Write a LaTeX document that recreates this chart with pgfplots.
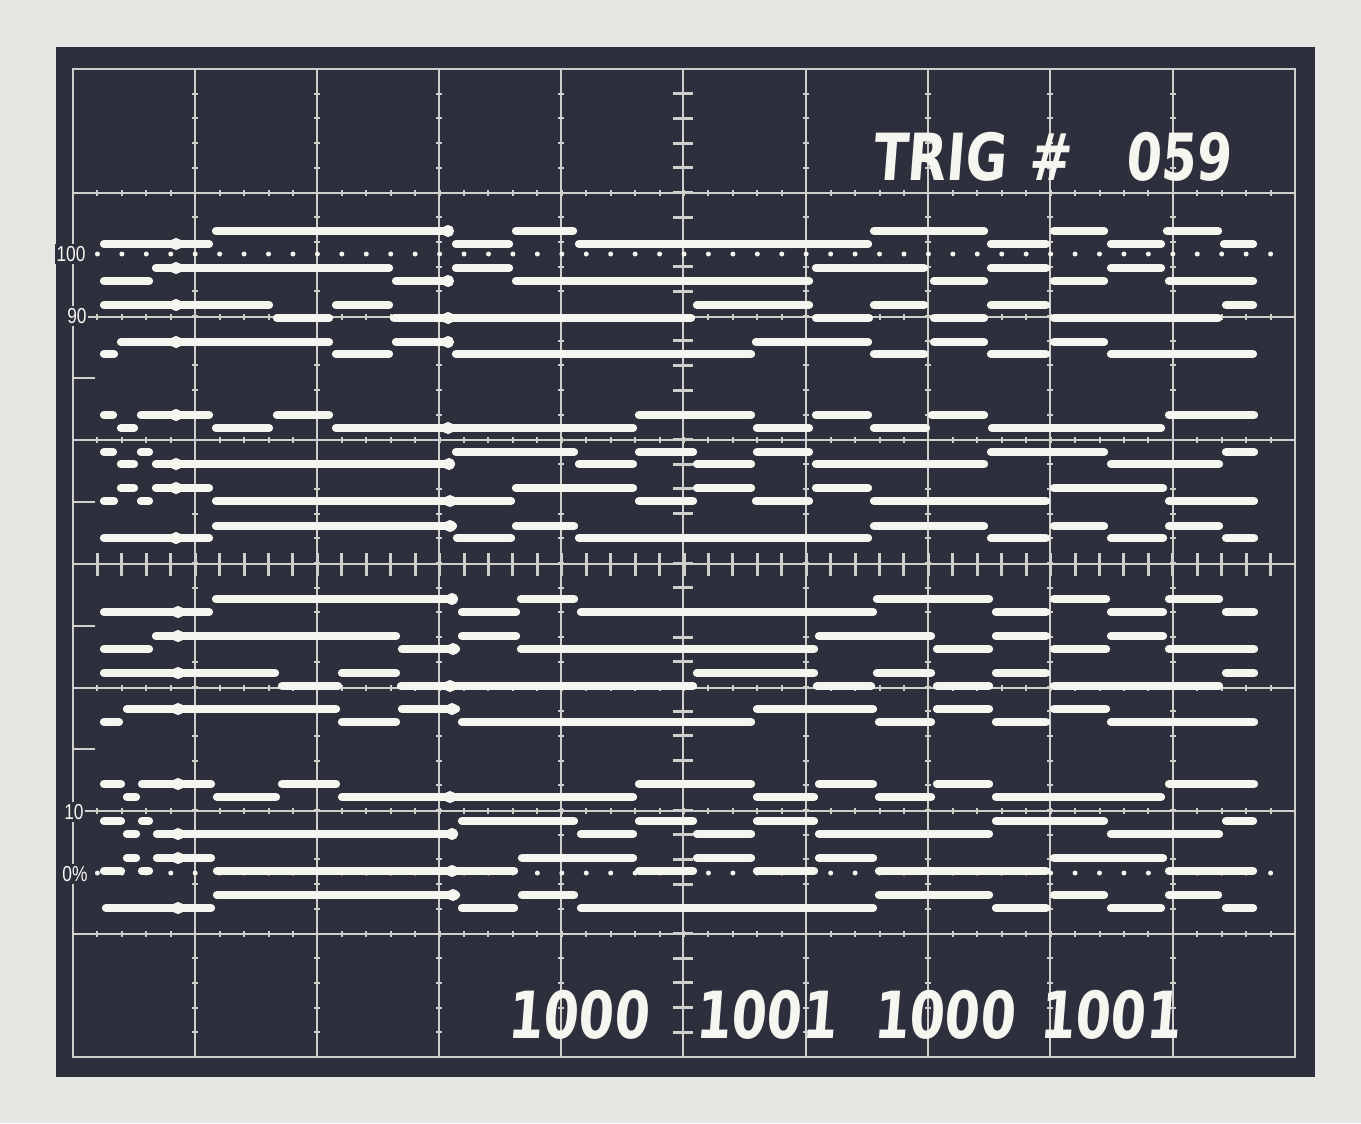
\documentclass[border=0pt]{standalone}
\usepackage{fontspec}
\setmainfont{Liberation Sans}
\newfontfamily\hand{DejaVu Sans}[FakeSlant=0.1]
\usepackage{pgfplots}
\pgfplotsset{compat=1.18}

\definecolor{paper}{HTML}{E6E6E3}
\definecolor{screen}{HTML}{2D2F3C}
\definecolor{grat}{HTML}{CFCFCC}
\definecolor{beam}{HTML}{F6F6F1}

\begin{document}
\begin{tikzpicture}
\begin{axis}[
    width=408.3pt, height=336.9pt, scale only axis,
    xmin=0, xmax=1361, ymin=0, ymax=1123, y dir=reverse,
    hide axis, clip=false,
]
% photo paper and CRT face
\fill[paper] (0,0) rectangle (1361,1123);
\fill[screen] (56,47) rectangle (1315,1077);

% graticule: 10 x 8 divisions
\draw[grat, line width=0.6pt] (73,69) rectangle (1295,1057);
\draw[grat, line width=0.6pt] foreach \x in {195,317,439,561,683,806,928,1050,1173} {(\x,69) -- (\x,1057)};
\draw[grat, line width=0.6pt] foreach \y in {193,317,440,564,688,811,934} {(73,\y) -- (1295,\y)};
% minor marks, 5 per division
\draw[grat, line width=0.6pt] foreach \x in {195,317,439,561,806,928,1050,1173} {
    foreach \k in {1,...,39} {({\x-3},{69+\k*24.7}) -- ({\x+3},{69+\k*24.7})}};
\draw[grat, line width=0.6pt] foreach \y in {193,317,440,688,811,934} {
    foreach \k in {1,...,49} {({73+\k*24.44},{\y-3}) -- ({73+\k*24.44},{\y+3})}};
\draw[grat, line width=0.9pt] foreach \k in {1,...,39} {(673,{69+\k*24.7}) -- (693,{69+\k*24.7})};
\draw[grat, line width=0.9pt] foreach \k in {1,...,49} {({73+\k*24.44},553) -- ({73+\k*24.44},576)};
\draw[grat, line width=0.6pt] foreach \y in {378,502,626,749} {(73,\y) -- (95,\y)};
% 100% and 0% dotted references
\fill[beam] foreach \k in {1,...,49} {({73+\k*24.44},254) circle[radius=0.75pt]};
\fill[beam] foreach \k in {1,...,49} {({73+\k*24.44},873) circle[radius=0.75pt]};

\node[text=beam, fill=screen, inner sep=0.6pt, xscale=0.8, font=\fontsize{6.5}{6.5}\selectfont] at (71,254) {100};
\node[text=beam, fill=screen, inner sep=0.6pt, xscale=0.8, font=\fontsize{6.5}{6.5}\selectfont] at (77,316) {90};
\node[text=beam, fill=screen, inner sep=0.6pt, xscale=0.8, font=\fontsize{6.5}{6.5}\selectfont] at (74,812) {10};
\node[text=beam, fill=screen, inner sep=0.6pt, xscale=0.8, font=\fontsize{6.5}{6.5}\selectfont] at (75,874) {0\%};

% beam traces: each row x1 -> x2 at level y (pixels of the photo)
\addplot[beam, line width=2.5pt, line cap=round,
    quiver={u=\thisrow{x2}-\thisrow{x1}, v=0}] table[x=x1, y=y] {
x1 x2 y
216 448 231
516 573 231
874 984 231
1054 1104 231
1167 1218 231
104 209 244
456 509 244
579 868 244
991 1046 244
1111 1161 244
1224 1253 244
156 389 268
456 509 268
816 924 268
991 1046 268
1111 1161 268
104 149 281
396 449 281
516 809 281
934 984 281
1054 1104 281
1169 1253 281
104 269 305
336 389 305
697 809 305
874 924 305
991 1046 305
1226 1253 305
277 329 318
394 691 318
816 869 318
934 984 318
1054 1218 318
121 329 342
396 449 342
756 868 342
934 984 342
1054 1104 342
104 114 354
336 389 354
456 751 354
874 924 354
991 1046 354
1111 1253 354
104 113 415
141 209 415
277 329 415
639 751 415
816 868 415
932 984 415
1169 1254 415
121 134 428
216 269 428
336 633 428
757 809 428
874 926 428
992 1161 428
104 113 452
141 149 452
456 574 452
639 693 452
757 809 452
991 1104 452
1226 1254 452
121 134 464
156 451 464
579 633 464
697 751 464
816 984 464
1111 1219 464
121 134 488
156 209 488
516 633 488
697 751 488
816 868 488
1054 1163 488
104 114 501
141 149 501
216 511 501
639 693 501
756 809 501
874 1046 501
1169 1254 501
216 453 526
516 574 526
874 984 526
1054 1104 526
1169 1219 526
104 209 538
457 511 538
579 868 538
991 1046 538
1111 1163 538
1226 1254 538
216 454 599
521 574 599
877 989 599
1054 1106 599
1169 1219 599
104 209 612
462 516 612
581 873 612
996 1046 612
1111 1163 612
1226 1254 612
156 396 636
462 516 636
819 931 636
996 1046 636
1111 1163 636
104 149 649
402 456 649
521 814 649
937 989 649
1054 1106 649
1169 1254 649
104 275 673
342 396 673
697 814 673
877 931 673
996 1046 673
1226 1254 673
282 338 686
401 693 686
817 871 686
937 989 686
1054 1219 686
127 336 709
402 456 709
757 873 709
937 989 709
1054 1106 709
104 119 722
342 396 722
462 751 722
879 931 722
996 1046 722
1111 1254 722
104 121 784
142 211 784
282 336 784
639 751 784
819 873 784
937 989 784
1169 1254 784
127 136 797
217 276 797
342 633 797
757 814 797
879 931 797
996 1161 797
104 121 821
142 149 821
462 574 821
639 693 821
757 814 821
996 1104 821
1226 1253 821
127 136 834
157 454 834
581 633 834
697 751 834
819 989 834
1111 1219 834
127 136 858
157 211 858
522 633 858
697 751 858
819 873 858
1054 1163 858
104 121 871
142 149 871
217 514 871
639 693 871
757 814 871
879 1046 871
1169 1253 871
217 456 895
522 574 895
879 989 895
1054 1104 895
1169 1218 895
106 211 908
462 514 908
581 873 908
996 1046 908
1111 1161 908
1226 1253 908
};

% intensified spots on the traces
\addplot[only marks, mark=*, mark size=1.6pt, mark options={fill=beam, draw=beam}] coordinates {
(176,244) (176,268) (176,305) (176,342) (176,415) (176,464) (176,488) (176,538)
(448,231) (448,281) (448,318) (448,342) (448,428) (449,464) (450,501) (450,526)
(178,612) (178,636) (178,673) (178,709) (178,784) (178,834) (178,858) (178,908)
(452,599) (453,649) (450,686) (452,709) (450,797) (452,834) (452,871) (453,895)
};

% handwritten annotations
\node[anchor=base west, text=beam, xscale=0.78, font=\hand\bfseries\fontsize{19.5}{19.5}\selectfont] at (863,180) {TRIG};
\node[anchor=base, text=beam, xscale=0.78, font=\hand\bfseries\fontsize{19.5}{19.5}\selectfont] at (1050,180) {\#};
\node[anchor=base west, text=beam, xscale=0.78, font=\hand\bfseries\fontsize{19.5}{19.5}\selectfont] at (1116,180) {059};
\node[anchor=base west, text=beam, xscale=0.78, font=\hand\bfseries\fontsize{19.5}{19.5}\selectfont] at (498,1038) {1000};
\node[anchor=base west, text=beam, xscale=0.78, font=\hand\bfseries\fontsize{19.5}{19.5}\selectfont] at (686,1038) {1001};
\node[anchor=base west, text=beam, xscale=0.78, font=\hand\bfseries\fontsize{19.5}{19.5}\selectfont] at (864,1038) {1000};
\node[anchor=base west, text=beam, xscale=0.78, font=\hand\bfseries\fontsize{19.5}{19.5}\selectfont] at (1030,1038) {1001};
\end{axis}
\end{tikzpicture}
\end{document}
